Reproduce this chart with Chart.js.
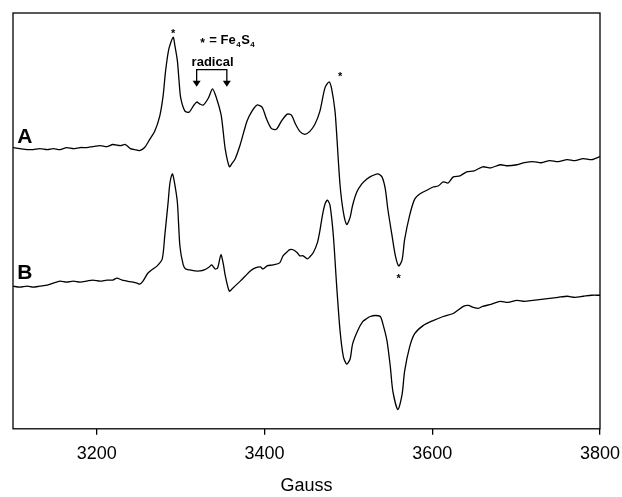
<!DOCTYPE html>
<html>
<head>
<meta charset="utf-8">
<script src="https://cdn.jsdelivr.net/npm/chart.js@4.4.0/dist/chart.umd.min.js"></script>
<style>
  html, body { margin: 0; padding: 0; background: #fff; }
  #wrap { width: 622px; height: 497px; }
</style>
</head>
<body>
<div id="wrap"><canvas id="epr"></canvas></div>
<script>
// Campo magnetico (Gauss) y senal (unidades arbitrarias)
const fieldA = [3100, 3108, 3117, 3124, 3132, 3141, 3148, 3156, 3164, 3172, 3180, 3188, 3195, 3204, 3212, 3219, 3228, 3234, 3240, 3245, 3251, 3257, 3263, 3269, 3275, 3279, 3282, 3286, 3291, 3293, 3296, 3298, 3300, 3305, 3310, 3315, 3319, 3323, 3327, 3333, 3338, 3343, 3348, 3350, 3353, 3358, 3361, 3365, 3371, 3379, 3385, 3391, 3397, 3402, 3408, 3414, 3420, 3427, 3432, 3437, 3442, 3448, 3454, 3460, 3466, 3472, 3477, 3480, 3484, 3486, 3490, 3494, 3498, 3502, 3505, 3510, 3516, 3522, 3528, 3535, 3540, 3544, 3547, 3552, 3556, 3560, 3564, 3567, 3573, 3579, 3585, 3594, 3601, 3607, 3613, 3619, 3625, 3633, 3641, 3650, 3660, 3670, 3681, 3690, 3701, 3710, 3720, 3730, 3740, 3750, 3761, 3770, 3780, 3790, 3800];
const signalA = [278, 277, 276, 276, 277, 276, 277, 276, 278, 277, 278, 278, 279, 280, 279, 281, 280, 281, 277, 276, 275, 278, 286, 294, 309, 329, 354, 376, 387, 379, 364, 344, 327, 314, 313, 319, 323, 321, 320, 327, 336, 326, 311, 299, 277, 259, 262, 267, 281, 304, 314, 320, 318, 307, 297, 296, 304, 311, 310, 301, 294, 291, 294, 301, 314, 337, 343, 336, 314, 291, 241, 214, 202, 209, 221, 234, 242, 247, 250, 252, 249, 237, 217, 191, 171, 161, 167, 187, 211, 227, 232, 236, 239, 240, 244, 243, 249, 250, 254, 255, 259, 258, 261, 260, 261, 263, 264, 263, 265, 264, 266, 265, 267, 266, 269];

const fieldB = [3100, 3108, 3117, 3124, 3132, 3141, 3148, 3156, 3164, 3172, 3180, 3188, 3195, 3204, 3212, 3219, 3224, 3230, 3236, 3243, 3248, 3251, 3255, 3261, 3267, 3272, 3278, 3281, 3285, 3287, 3290, 3292, 3296, 3299, 3303, 3306, 3311, 3317, 3323, 3328, 3334, 3337, 3341, 3344, 3348, 3351, 3353, 3358, 3362, 3371, 3377, 3383, 3389, 3395, 3398, 3403, 3410, 3418, 3422, 3427, 3430, 3434, 3439, 3442, 3446, 3451, 3454, 3458, 3463, 3466, 3469, 3472, 3475, 3478, 3482, 3486, 3490, 3494, 3498, 3502, 3505, 3511, 3517, 3522, 3526, 3532, 3538, 3541, 3546, 3550, 3553, 3559, 3564, 3567, 3573, 3579, 3589, 3601, 3613, 3625, 3637, 3643, 3649, 3655, 3660, 3670, 3681, 3690, 3701, 3710, 3720, 3730, 3740, 3750, 3761, 3770, 3780, 3790, 3800];
const signalB = [141, 140, 141, 140, 141, 142, 144, 146, 145, 146, 145, 146, 147, 146, 147, 147, 149, 147, 146, 145, 144, 143, 146, 154, 158, 161, 168, 191, 224, 242, 252, 246, 224, 181, 162, 158, 157, 156, 156, 157, 160, 162, 158, 159, 172, 162, 152, 136, 139, 146, 151, 156, 159, 160, 158, 161, 162, 164, 171, 175, 177, 177, 174, 171, 171, 168, 170, 174, 184, 196, 211, 222, 226, 221, 191, 141, 97, 71, 64, 69, 84, 97, 106, 109, 111, 112, 111, 104, 87, 61, 37, 19, 34, 57, 81, 94, 102, 107, 111, 114, 121, 122, 120, 119, 121, 123, 126, 125, 127, 126, 127, 128, 129, 130, 131, 130, 131, 132, 132];

const xTicks = [3200, 3400, 3600, 3800];
const xTitle = "Gauss";

// Anotaciones en coordenadas de datos (Gauss, senal)
const stars = [[3291, 393], [3490, 351], [3560, 151]];
const traceLabels = [["A", 3114, 288], ["B", 3114, 154]];
const legendPos = [3327, 384];
const radicalPos = [3338, 362];
const bracket = { left: 3319, right: 3355, top: 355, tip: 338 };

const toPoints = (xs, ys) => xs.map((x, i) => ({ x: x, y: ys[i] }));

// Marco alrededor del area del grafico y anotaciones
const framePlugin = {
  id: "frame",
  afterDatasetsDraw(chart) {
    const { ctx, chartArea: a, scales } = chart;
    const px = (g) => scales.x.getPixelForValue(g);
    const py = (v) => scales.y.getPixelForValue(v);
    ctx.save();
    ctx.strokeStyle = "#000";
    ctx.lineWidth = 1.3;
    ctx.strokeRect(a.left, a.top, a.right - a.left, a.bottom - a.top);

    ctx.fillStyle = "#000";
    ctx.textAlign = "center";
    ctx.textBaseline = "middle";

    // Asteriscos sobre los picos de Fe4S4
    ctx.font = "bold 11px 'Liberation Sans', Arial, sans-serif";
    stars.forEach(s => ctx.fillText("*", px(s[0]), py(s[1]) + 3));

    // Etiquetas A y B
    ctx.font = "bold 21px 'Liberation Sans', Arial, sans-serif";
    traceLabels.forEach(l => ctx.fillText(l[0], px(l[1]), py(l[2])));

    // Leyenda "* = Fe4S4"
    let x = px(legendPos[0]);
    const y = py(legendPos[1]);
    ctx.textAlign = "left";
    ctx.font = "bold 12px 'Liberation Sans', Arial, sans-serif";
    ctx.fillText("*", x - 3, y + 3);
    const parts = [["= Fe", 13, 0], ["4", 8, 4], ["S", 13, 0], ["4", 8, 4]];
    x += 6;
    parts.forEach(p => {
      ctx.font = "bold " + p[1] + "px 'Liberation Sans', Arial, sans-serif";
      ctx.fillText(p[0], x, y + p[2]);
      x += ctx.measureText(p[0]).width + 0.5;
    });

    // "radical" con corchete y flechas
    ctx.textAlign = "center";
    ctx.font = "bold 13px 'Liberation Sans', Arial, sans-serif";
    ctx.fillText("radical", px(radicalPos[0]), py(radicalPos[1]));
    const bl = px(bracket.left), br = px(bracket.right);
    const bt = py(bracket.top), bb = py(bracket.tip);
    ctx.lineWidth = 1.3;
    ctx.beginPath();
    ctx.moveTo(bl, bb - 5);
    ctx.lineTo(bl, bt);
    ctx.lineTo(br, bt);
    ctx.lineTo(br, bb - 5);
    ctx.stroke();
    [bl, br].forEach(bx => {
      ctx.beginPath();
      ctx.moveTo(bx - 4, bb - 6);
      ctx.lineTo(bx + 4, bb - 6);
      ctx.lineTo(bx, bb);
      ctx.closePath();
      ctx.fill();
    });
    ctx.restore();
  }
};

new Chart(document.getElementById("epr"), {
  type: "line",
  data: {
    datasets: [
      { label: "A", data: toPoints(fieldA, signalA), borderColor: "#000", borderWidth: 1.3, pointRadius: 0, tension: 0.25, fill: false },
      { label: "B", data: toPoints(fieldB, signalB), borderColor: "#000", borderWidth: 1.3, pointRadius: 0, tension: 0.25, fill: false }
    ]
  },
  options: {
    responsive: true,
    maintainAspectRatio: false,
    animation: false,
    layout: { padding: { left: 13, right: 22, top: 13, bottom: 0 } },
    plugins: { legend: { display: false }, tooltip: { enabled: false } },
    scales: {
      x: {
        type: "linear",
        min: 3100,
        max: 3800,
        afterBuildTicks: (axis) => { axis.ticks = xTicks.map(v => ({ value: v })); },
        afterFit: (axis) => { axis.paddingLeft = 0; axis.paddingRight = 0; },
        ticks: {
          color: "#000",
          padding: 8,
          callback: (v) => String(v),
          font: { family: "'Liberation Sans', Arial, sans-serif", size: 18 }
        },
        grid: { drawOnChartArea: false, drawTicks: true, tickLength: 6, color: "#000", lineWidth: 1.3 },
        border: { display: false },
        title: { display: true, text: xTitle, color: "#000", padding: { top: 3, bottom: 0 }, font: { family: "'Liberation Sans', Arial, sans-serif", size: 18 } }
      },
      y: {
        display: false,
        min: 0,
        max: 411
      }
    }
  },
  plugins: [framePlugin]
});
</script>
</body>
</html>
